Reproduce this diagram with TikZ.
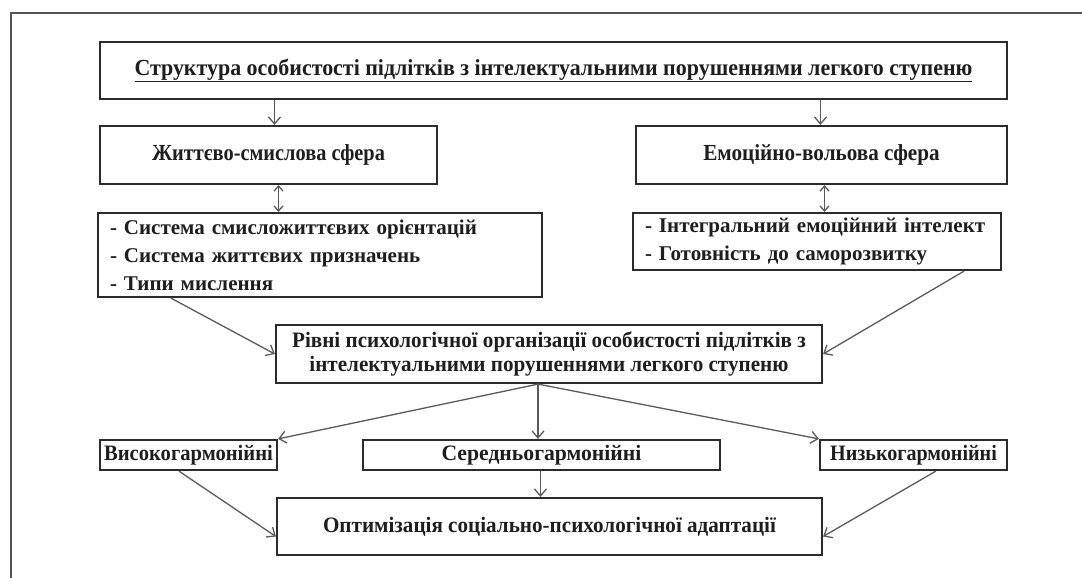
\documentclass[tikz,border=0pt]{standalone}
\usepackage{fontspec}
\setmainfont{Liberation Serif}
\usetikzlibrary{arrows.meta,calc}
\definecolor{boxc}{HTML}{2B2B2B}
\definecolor{arrc}{HTML}{5A5A5A}
\definecolor{txtc}{HTML}{1E1E1E}
\definecolor{framec}{HTML}{555555}
\newcommand\hsq[2]{\scalebox{#1}[1]{#2}}
\begin{document}
\begin{tikzpicture}[x=1pt,y=-1pt,
  box/.style={draw=boxc, line width=2.2pt, inner sep=0pt, text=txtc,
    font=\bfseries\fontsize{22}{24}\selectfont, align=center},
  bigbox/.style={box, font=\bfseries\fontsize{23}{25}\selectfont},
  listbox/.style={box, inner xsep=12pt, align=left,
    font=\bfseries\fontsize{21}{28}\selectfont},
  arr/.style={draw=arrc, line width=1.3pt, -{Straight Barb[length=7pt,width=12pt]}},
  darr/.style={draw=arrc, line width=1.3pt,
    {Straight Barb[length=5pt,width=9pt]}-{Straight Barb[length=5pt,width=9pt]}},
  framel/.style={draw=framec, line width=2.5pt}
]
\useasboundingbox (0,0) rectangle (1082,578);
\draw[framel] (1082,13) -- (11,13) -- (11,578);

\node[bigbox, minimum width=907pt, minimum height=57pt] (top) at (553.5,70.5)
  {\hsq{0.954}{\underline{Структура особистості підлітків з інтелектуальними порушеннями легкого ступеню}}};
\node[bigbox, minimum width=337pt, minimum height=58pt] (lsph) at (268.5,155) {\hsq{0.885}{Життєво-смислова сфера}};
\node[bigbox, minimum width=371pt, minimum height=58pt] (rsph) at (821.5,155) {\hsq{0.92}{Емоційно-вольова сфера}};
\node[listbox, text width=420pt, minimum width=444pt, minimum height=84pt] (llist) at (320,255)
  {- Система смисложиттєвих орієнтацій\\- Система життєвих призначень\\- Типи мислення};
\node[listbox, text width=344pt, minimum width=368pt, minimum height=57pt] (rlist) at (817,241.5)
  {- Інтегральний емоційний інтелект\\- Готовність до саморозвитку};
\node[box, minimum width=546pt, minimum height=58pt] (mid) at (549,354)
  {\hsq{0.96}{Рівні психологічної організації особистості підлітків з}\\\hsq{0.96}{інтелектуальними порушеннями легкого ступеню}};
\node[box, minimum width=177pt, minimum height=30pt] (vys) at (188.5,455) {\hsq{0.936}{Високогармонійні}};
\node[box, minimum width=357pt, minimum height=30pt] (ser) at (541.5,455) {\hsq{0.985}{Середньогармонійні}};
\node[box, minimum width=187pt, minimum height=30pt] (niz) at (913.5,455) {\hsq{0.914}{Низькогармонійні}};
\node[box, minimum width=545pt, minimum height=57pt] (bot) at (549.5,526.5)
  {\hsq{0.96}{Оптимізація соціально-психологічної адаптації}};

\draw[arr] ([xshift=6pt]lsph.north |- top.south) -- ([xshift=6pt]lsph.north);
\draw[arr] ([xshift=-1pt]rsph.north |- top.south) -- ([xshift=-1pt]rsph.north);
\draw[darr] ([xshift=10pt]lsph.south) -- ([xshift=10pt]lsph.south |- llist.north);
\draw[darr] ([xshift=3pt]rsph.south) -- ([xshift=3pt]rsph.south |- rlist.north);
\draw[arr] ($(llist.south west)+(74,0)$) -- (mid.west);
\draw[arr] ($(rlist.south east)+(-38,0)$) -- (mid.east);
\coordinate (fan) at ([xshift=-11pt]mid.south);
\draw[arr] (fan) -- (vys.north east);
\draw[arr] (fan) -- (fan |- ser.north);
\draw[arr] (fan) -- (niz.north west);
\draw[arr] ($(vys.south west)+(80,0)$) -- ([yshift=-10pt]bot.west);
\draw[arr] ([xshift=-1pt]ser.south) -- ([xshift=-1pt]ser.south |- bot.north);
\draw[arr] ($(niz.south west)+(117,0)$) -- ([yshift=-10pt]bot.east);
\end{tikzpicture}
\end{document}
